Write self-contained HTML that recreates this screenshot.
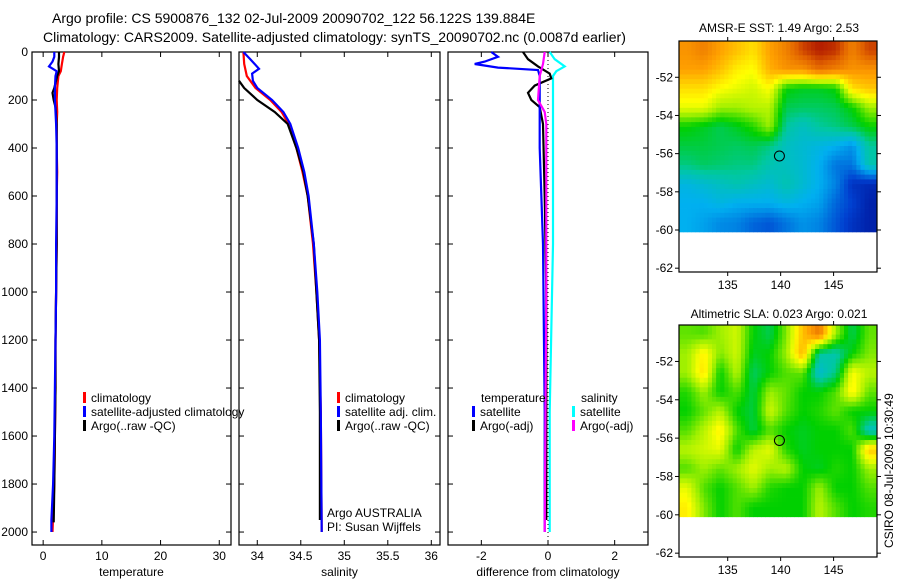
<!DOCTYPE html>
<html><head><meta charset="utf-8"><style>
body{margin:0;background:#fff}
svg{display:block;font-family:"Liberation Sans",sans-serif}
</style></head><body>
<svg id="c" width="900" height="580" viewBox="0 0 900 580">
<text x="52" y="23" font-size="14">Argo profile: CS 5900876_132 02-Jul-2009 20090702_122 56.122S 139.884E</text>
<text x="43" y="42" font-size="14">Climatology: CARS2009. Satellite-adjusted climatology: synTS_20090702.nc (0.0087d earlier)</text>
<text x="779" y="32" font-size="12" text-anchor="middle">AMSR-E SST: 1.49 Argo: 2.53</text>
<text x="779" y="318" font-size="12" text-anchor="middle">Altimetric SLA: 0.023 Argo: 0.021</text>
<text transform="translate(893,548) rotate(-90)" font-size="12">CSIRO 08-Jul-2009 10:30:49</text>
</svg>
<script>
// ---- data ----
const depthTicks=[0,200,400,600,800,1000,1200,1400,1600,1800,2000];
const tempTicks=[0,10,20,30];
const salTicks=[34,34.5,35,35.5,36];
const diffTicks=[-2,0,2];
const lonTicks=[135,140,145];
const latTicks=[-52,-54,-56,-58,-60,-62];

const tClimDepth=[0,20,50,80,100,150,200,250,300,400,500,600,800,1000,1200,1400,1600,1800,2000];
const tClim=[3.6,3.4,3.2,3.0,2.6,2.4,2.3,2.4,2.3,2.3,2.4,2.3,2.3,2.2,2.1,2.1,2.0,1.9,1.6];
const tSatDepth=[0,20,40,60,80,100,150,200,250,300,400,600,800,1000,1200,1400,1600,1800,1950,2000];
const tSat=[1.9,1.9,1.6,1.0,2.3,2.1,2.0,2.0,2.1,2.2,2.3,2.3,2.2,2.2,2.1,2.0,1.9,1.7,1.4,1.4];
const tArgoDepth=[0,20,50,80,100,150,170,200,230,300,400,600,800,1000,1200,1400,1600,1800,1960];
const tArgo=[2.7,2.7,2.6,2.7,2.4,1.9,1.6,1.8,2.1,2.3,2.3,2.3,2.3,2.2,2.1,2.1,2.0,1.9,1.8];

const sClimDepth=[0,50,100,150,200,250,300,400,500,600,800,1000,1200,1500,2000];
const sClim=[33.84,33.85,33.88,33.98,34.15,34.28,34.36,34.45,34.52,34.58,34.64,34.68,34.71,34.73,34.74];
const sSatDepth=[0,30,70,90,120,150,200,250,300,400,500,600,800,1000,1200,1500,2000];
const sSat=[33.84,33.92,34.02,33.94,33.95,34.0,34.17,34.3,34.38,34.47,34.54,34.59,34.65,34.69,34.72,34.73,34.74];
const sArgoDepth=[120,150,200,250,300,400,500,600,800,1000,1200,1500,1950];
const sArgo=[33.79,33.85,34.0,34.2,34.35,34.45,34.53,34.58,34.65,34.68,34.71,34.72,34.72];

const dTSatDepth=[0,20,40,50,65,75,100,200,400,800,1500,2000];
const dTSat=[-1.7,-1.5,-1.9,-2.2,-1.5,-0.3,-0.25,-0.25,-0.25,-0.15,-0.1,-0.1];
const dTArgoDepth=[0,30,60,90,110,140,170,200,230,300,600,1000,1950];
const dTArgo=[-0.75,-0.6,-0.3,0.05,0.1,-0.4,-0.6,-0.5,-0.25,-0.15,-0.1,-0.05,-0.05];
const dSSatDepth=[0,30,60,80,100,300,800,1500,2000];
const dSSat=[0.05,0.2,0.5,0.25,0.15,0.15,0.15,0.05,0.05];
const dSArgoDepth=[0,50,100,200,250,300,1000,2000];
const dSArgo=[-0.1,-0.15,-0.25,-0.3,-0.1,-0.05,-0.05,-0.1];

const argoLon=139.884, argoLat=-56.122;
const sstGrid=[
[.82,.85,.8,.76,.72,.8,.85,.93,.97,.95,.85,.93],
[.8,.8,.76,.7,.68,.78,.82,.82,.88,.85,.82,.82],
[.72,.72,.68,.66,.64,.68,.5,.48,.48,.5,.72,.75],
[.66,.66,.6,.6,.62,.62,.45,.44,.44,.45,.5,.6],
[.5,.48,.45,.48,.52,.6,.4,.36,.4,.42,.45,.5],
[.46,.46,.45,.44,.45,.42,.36,.34,.32,.3,.26,.4],
[.42,.44,.43,.42,.42,.38,.36,.34,.3,.22,.22,.38],
[.32,.34,.36,.38,.36,.34,.38,.34,.3,.24,.12,.1],
[.3,.3,.32,.3,.3,.3,.32,.3,.28,.2,.15,.08],
[.3,.28,.25,.24,.2,.18,.22,.26,.24,.18,.12,.08]];
const slaGrid=[
[.56,.55,.6,.64,.5,.45,.58,.76,.86,.6,.45,.56],
[.6,.7,.58,.64,.48,.5,.6,.78,.4,.38,.5,.58],
[.6,.72,.5,.62,.44,.5,.55,.56,.34,.42,.68,.62],
[.52,.6,.5,.55,.46,.6,.56,.5,.5,.55,.7,.56],
[.5,.56,.62,.5,.46,.64,.55,.5,.52,.56,.5,.5],
[.55,.62,.7,.55,.46,.55,.5,.48,.5,.5,.55,.36],
[.62,.64,.66,.5,.62,.66,.52,.48,.5,.5,.5,.75],
[.55,.6,.56,.6,.66,.6,.62,.5,.48,.52,.5,.6],
[.66,.55,.5,.55,.6,.52,.5,.5,.6,.5,.5,.55],
[.7,.58,.5,.55,.5,.5,.5,.5,.62,.55,.5,.52]];

// ---- drawing ----
const svg=document.getElementById('c');
const NS='http://www.w3.org/2000/svg';
function mk(tag,attrs,parent){const e=document.createElementNS(NS,tag);for(const k in attrs)e.setAttribute(k,attrs[k]);(parent||svg).appendChild(e);return e;}
const Y0=52,Y1=545,DMAX=2054;
const yD=d=>Y0+d/DMAX*(Y1-Y0);
function lin(d0,d1,r0,r1){return v=>r0+(v-d0)/(d1-d0)*(r1-r0);}

function panel(name,x0,x1,xs,ticks,label,labelTxt,showY){
  const g=mk('g',{});
  
  
  const r=mk('rect',{x:x0,y:Y0,width:x1-x0,height:Y1-Y0,fill:'none',stroke:'#000','stroke-width':1.2},g);
  
  ticks.forEach(t=>{const x=xs(t);
    mk('line',{x1:x,x2:x,y1:Y1,y2:Y1-5,stroke:'#000'},g);mk('line',{x1:x,x2:x,y1:Y0,y2:Y0+5,stroke:'#000'},g);
    const tx=mk('text',{x:x,y:Y1+15,'font-size':12,'text-anchor':'middle'},g);tx.textContent=t;
    });
  depthTicks.forEach(d=>{const y=yD(d);
    mk('line',{x1:x0,x2:x0+5,y1:y,y2:y,stroke:'#000'},g);mk('line',{x1:x1,x2:x1-5,y1:y,y2:y,stroke:'#000'},g);
    if(showY){const tx=mk('text',{x:x0-4,y:y+4,'font-size':12,'text-anchor':'end'},g);tx.textContent=d;
      }});
  const lt=mk('text',{x:(x0+x1)/2,y:576,'font-size':12,'text-anchor':'middle'},g);lt.textContent=labelTxt;
  
  return g;
}
function line(g,name,xs,vals,depths,color,w,dash){
  const pts=vals.map((v,i)=>xs(v).toFixed(1)+','+yD(depths[i]).toFixed(1)).join(' ');
  const p=mk('polyline',{points:pts,fill:'none',stroke:color,'stroke-width':w||2.2,'stroke-dasharray':dash||'none'},g);
  
}
function legend(g,x,y,items){
  items.forEach((it,i)=>{const yy=y+i*14;
    const b=mk('rect',{x:x,y:yy-10,width:3,height:11,fill:it[1]},g);
    
    const t=mk('text',{x:x+8,y:yy,'font-size':12},g);t.textContent=it[0];
    });
}

const xT=lin(-1.9,32,32,231);
const g1=panel('temperature-panel',32,231,xT,tempTicks,'x-axis-title-temperature','temperature',true);
line(g1,'temp-climatology',xT,tClim,tClimDepth,'#f00');
line(g1,'temp-argo',xT,tArgo,tArgoDepth,'#000');
line(g1,'temp-satellite',xT,tSat,tSatDepth,'#00f');
legend(g1,83,402,[['climatology','#f00'],['satellite-adjusted climatology','#00f'],['Argo(..raw -QC)','#000']]);

const xS=lin(33.79,36.1,239,440);
const g2=panel('salinity-panel',239,440,xS,salTicks,'x-axis-title-salinity','salinity',false);
line(g2,'sal-climatology',xS,sClim,sClimDepth,'#f00');
line(g2,'sal-argo',xS,sArgo,sArgoDepth,'#000');
line(g2,'sal-satellite',xS,sSat,sSatDepth,'#00f');
legend(g2,337,402,[['climatology','#f00'],['satellite adj. clim.','#00f'],['Argo(..raw -QC)','#000']]);
const a1=mk('text',{x:327,y:517,'font-size':12},g2);a1.textContent='Argo AUSTRALIA';

const a2=mk('text',{x:327,y:531,'font-size':12},g2);a2.textContent='PI: Susan Wijffels';


const xD=lin(-3,3,448,648);
const g3=panel('difference-panel',448,648,xD,diffTicks,'x-axis-title-difference','difference from climatology',false);
line(g3,'zero-line',xD,[0,0],[0,2054],'#000',1,'1,3');
line(g3,'diff-sal-satellite',xD,dSSat,dSSatDepth,'#0ff');
line(g3,'diff-temp-argo',xD,dTArgo,dTArgoDepth,'#000');
line(g3,'diff-temp-satellite',xD,dTSat,dTSatDepth,'#00f');
line(g3,'diff-sal-argo',xD,dSArgo,dSArgoDepth,'#f0f');
const lh1=mk('text',{x:481,y:402,'font-size':12},g3);lh1.textContent='temperature';

const lh2=mk('text',{x:581,y:402,'font-size':12},g3);lh2.textContent='salinity';

legend(g3,472,416,[['satellite','#00f'],['Argo(-adj)','#000']]);
legend(g3,572,416,[['satellite','#0ff'],['Argo(-adj)','#f0f']]);

// colormap
const stops=[[0,[0,0,128]],[.15,[0,64,208]],[.3,[0,176,240]],[.4,[0,200,160]],[.5,[0,208,0]],[.6,[160,240,0]],[.68,[255,255,0]],[.8,[255,160,0]],[.9,[224,96,0]],[1,[160,0,0]]];
function cmap(v){for(let i=1;i<stops.length;i++){if(v<=stops[i][0]){const a=stops[i-1],b=stops[i],f=(v-a[0])/(b[0]-a[0]);
  return 'rgb('+a[1].map((c,k)=>Math.round(c+f*(b[1][k]-c))).join(',')+')';}}return 'rgb(160,0,0)';}

function sample(grid,fr,fc){ // bilinear at fractional cell-center coordinates
  const nr=grid.length,nc=grid[0].length;
  fr=Math.max(0,Math.min(nr-1,fr));fc=Math.max(0,Math.min(nc-1,fc));
  const r0=Math.floor(fr),c0=Math.floor(fc),r1=Math.min(nr-1,r0+1),c1=Math.min(nc-1,c0+1),a=fr-r0,b=fc-c0;
  return grid[r0][c0]*(1-a)*(1-b)+grid[r0][c1]*(1-a)*b+grid[r1][c0]*a*(1-b)+grid[r1][c1]*a*b;
}

function mapPanel(name,grid,top,bottom){
  const x0=679,x1=877,LON0=130.4,LON1=149.1,LAT0=-50.1,LAT1=-62.2;
  const xL=lin(LON0,LON1,x0,x1), yL=lin(LAT0,LAT1,top,bottom);
  const g=mk('g',{});
  const nr=grid.length,nc=grid[0].length,dLon=(LON1-LON0)/nc,dLat=(60.1-50.1)/nr;
  const S=4;
  for(let r=0;r<nr*S;r++)for(let c=0;c<nc*S;c++){
    const v=sample(grid,(r+0.5)/S-0.5,(c+0.5)/S-0.5);
    const xa=xL(LON0+c*dLon/S),xb=xL(LON0+(c+1)*dLon/S),ya=yL(LAT0-r*dLat/S),yb=yL(LAT0-(r+1)*dLat/S);
    const cell=mk('rect',{x:xa.toFixed(2),y:ya.toFixed(2),width:(xb-xa+0.4).toFixed(2),height:(yb-ya+0.4).toFixed(2),fill:cmap(v)},g);
    
    
  }
  const fr=mk('rect',{x:x0,y:top,width:x1-x0,height:bottom-top,fill:'none',stroke:'#000','stroke-width':1.2},g);
  
  latTicks.forEach(l=>{const y=yL(l);mk('line',{x1:x0,x2:x0-4,y1:y,y2:y,stroke:'#000'},g);mk('line',{x1:x1,x2:x1+4,y1:y,y2:y,stroke:'#000'},g);
    const t=mk('text',{x:x0-6,y:y+4,'font-size':12,'text-anchor':'end'},g);t.textContent=l;
    });
  lonTicks.forEach(l=>{const x=xL(l);mk('line',{x1:x,x2:x,y1:bottom,y2:bottom+4,stroke:'#000'},g);mk('line',{x1:x,x2:x,y1:top,y2:top-4,stroke:'#000'},g);
    const t=mk('text',{x:x,y:bottom+17,'font-size':12,'text-anchor':'middle'},g);t.textContent=l;
    });
  const m=mk('circle',{cx:xL(argoLon),cy:yL(argoLat),r:5,fill:'none',stroke:'#000','stroke-width':1},g);
  
}
mapPanel('sst-map',sstGrid,41,272);
mapPanel('sla-map',slaGrid,325,557);
</script>
</body></html>
